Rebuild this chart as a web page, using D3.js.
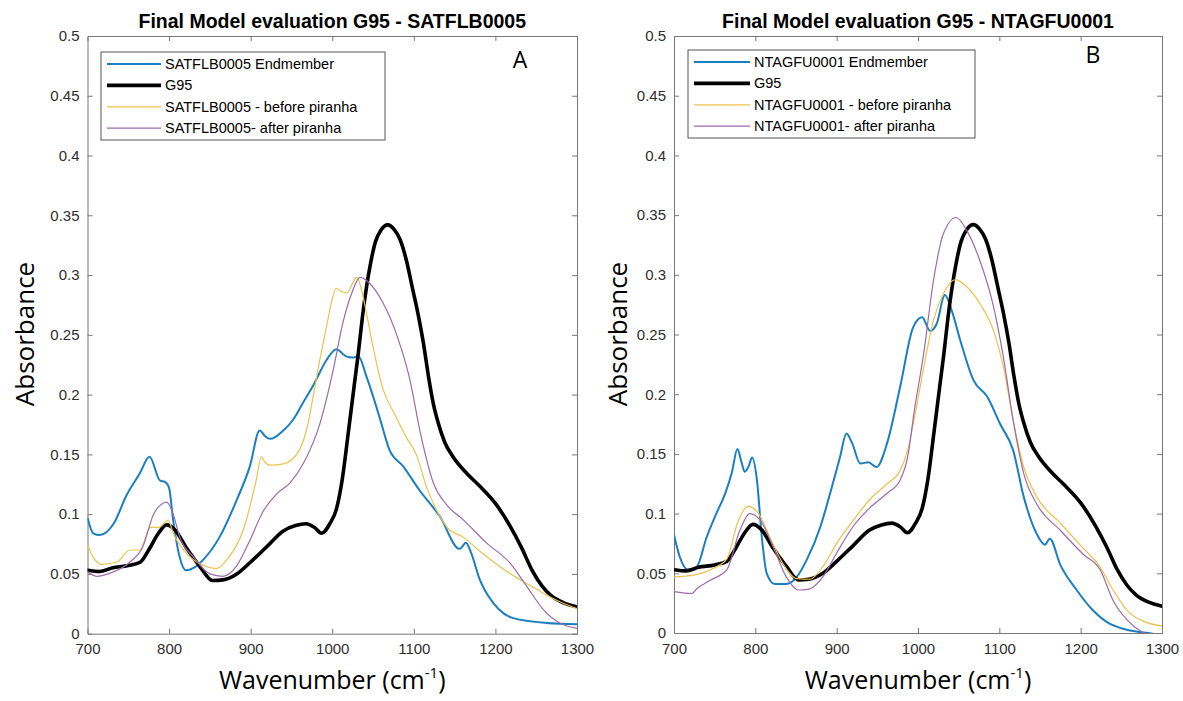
<!DOCTYPE html>
<html>
<head>
<meta charset="utf-8">
<script src="https://cdn.jsdelivr.net/npm/d3@7"></script>
<style>
  html, body { margin: 0; padding: 0; background: #fff; }
  svg { display: block; }
</style>
</head>
<body>
<svg id="chart" width="1183" height="701"></svg>
<script>
// ---------- data ----------
const waveTicks = [700, 800, 900, 1000, 1100, 1200, 1300];
const absTicks = [0, 0.05, 0.1, 0.15, 0.2, 0.25, 0.3, 0.35, 0.4, 0.45, 0.5];
const absTickLabels = ["0", "0.05", "0.1", "0.15", "0.2", "0.25", "0.3", "0.35", "0.4", "0.45", "0.5"];

// G95 reference spectrum (same in both panels)
const g95Wn  = [700, 715, 730, 750, 765, 775, 787, 797, 807, 822, 838, 853, 866, 883, 900, 920, 940, 955, 968, 978, 987, 997, 1005, 1012, 1020, 1027, 1032, 1037, 1042, 1047, 1053, 1060, 1068, 1076, 1083, 1091, 1098, 1105, 1112, 1118, 1124, 1130, 1138, 1148, 1165, 1180, 1200, 1218, 1232, 1245, 1257, 1268, 1283, 1300];
const g95Abs = [0.053, 0.052, 0.055, 0.057, 0.060, 0.070, 0.084, 0.091, 0.087, 0.071, 0.056, 0.0445, 0.045, 0.050, 0.060, 0.073, 0.086, 0.0905, 0.092, 0.089, 0.084, 0.092, 0.104, 0.128, 0.170, 0.208, 0.235, 0.265, 0.290, 0.310, 0.328, 0.338, 0.342, 0.338, 0.330, 0.312, 0.290, 0.268, 0.242, 0.215, 0.192, 0.176, 0.160, 0.148, 0.134, 0.124, 0.109, 0.090, 0.072, 0.053, 0.040, 0.032, 0.026, 0.0225];

// Panel A: SATFLB0005
const aEndWn  = [700, 707, 715, 732, 748, 764, 776, 789, 795, 800, 805, 813, 821, 830, 842, 862, 883, 899, 911, 918, 924, 940, 952, 964, 977, 993, 1005, 1017, 1025, 1032, 1042, 1058, 1070, 1087, 1107, 1132, 1156, 1164, 1170, 1181, 1197, 1210, 1222, 1263, 1300];
const aEndAbs = [0.097, 0.084, 0.0825, 0.092, 0.116, 0.134, 0.148, 0.128, 0.127, 0.122, 0.095, 0.064, 0.053, 0.055, 0.062, 0.081, 0.112, 0.140, 0.170, 0.165, 0.163, 0.170, 0.179, 0.193, 0.208, 0.229, 0.238, 0.232, 0.231, 0.232, 0.215, 0.181, 0.154, 0.140, 0.120, 0.098, 0.071, 0.076, 0.068, 0.045, 0.026, 0.017, 0.013, 0.009, 0.008];
const aBeforeWn  = [700, 707, 717, 736, 752, 764, 777, 787, 799, 805, 818, 842, 858, 871, 891, 907, 913, 918, 924, 940, 960, 970, 977, 985, 993, 1000, 1005, 1012, 1018, 1025, 1030, 1035, 1042, 1050, 1062, 1077, 1091, 1103, 1116, 1128, 1142, 1160, 1181, 1214, 1246, 1275, 1300];
const aBeforeAbs = [0.074, 0.064, 0.058, 0.060, 0.070, 0.070, 0.089, 0.089, 0.095, 0.084, 0.070, 0.057, 0.0545, 0.062, 0.087, 0.129, 0.148, 0.143, 0.141, 0.142, 0.154, 0.175, 0.200, 0.230, 0.257, 0.280, 0.289, 0.286, 0.285, 0.293, 0.298, 0.290, 0.268, 0.240, 0.205, 0.183, 0.164, 0.150, 0.122, 0.103, 0.088, 0.081, 0.069, 0.052, 0.039, 0.028, 0.021];
const aAfterWn  = [700, 711, 727, 752, 768, 781, 790, 797, 805, 813, 830, 850, 866, 883, 899, 915, 932, 948, 965, 985, 1001, 1013, 1024, 1034, 1046, 1062, 1079, 1095, 1108, 1124, 1140, 1161, 1189, 1218, 1238, 1259, 1279, 1300];
const aAfterAbs = [0.052, 0.048, 0.0505, 0.060, 0.073, 0.100, 0.108, 0.110, 0.100, 0.081, 0.064, 0.050, 0.048, 0.057, 0.078, 0.102, 0.117, 0.126, 0.143, 0.176, 0.220, 0.260, 0.285, 0.298, 0.293, 0.277, 0.250, 0.213, 0.168, 0.126, 0.108, 0.095, 0.076, 0.059, 0.040, 0.020, 0.009, 0.0045];

// Panel B: NTAGFU0001
const bEndWn  = [700, 707, 717, 728, 740, 752, 763, 771, 778, 783, 787, 792, 796, 802, 808, 814, 824, 838, 851, 863, 880, 892, 904, 912, 919, 929, 939, 949, 962, 978, 994, 1005, 1015, 1023, 1033, 1042, 1052, 1068, 1085, 1101, 1117, 1130, 1146, 1156, 1162, 1175, 1195, 1215, 1235, 1250, 1270, 1283, 1300];
const bEndAbs = [0.082, 0.064, 0.053, 0.0555, 0.080, 0.100, 0.117, 0.134, 0.154, 0.143, 0.135, 0.140, 0.147, 0.128, 0.080, 0.050, 0.041, 0.041, 0.047, 0.061, 0.089, 0.117, 0.147, 0.167, 0.159, 0.142, 0.143, 0.139, 0.159, 0.206, 0.256, 0.2645, 0.253, 0.259, 0.283, 0.269, 0.245, 0.212, 0.198, 0.175, 0.153, 0.114, 0.083, 0.074, 0.079, 0.057, 0.036, 0.019, 0.008, 0.004, 0.001, 0.0, -0.002];
const bBeforeWn  = [700, 724, 748, 765, 779, 791, 804, 818, 834, 851, 867, 883, 900, 920, 941, 962, 978, 988, 995, 1007, 1019, 1031, 1046, 1060, 1076, 1093, 1105, 1117, 1130, 1146, 1175, 1199, 1224, 1240, 1257, 1278, 1300];
const bBeforeAbs = [0.047, 0.0485, 0.054, 0.062, 0.094, 0.106, 0.100, 0.080, 0.058, 0.0455, 0.045, 0.0555, 0.075, 0.094, 0.112, 0.125, 0.136, 0.155, 0.178, 0.222, 0.262, 0.284, 0.296, 0.290, 0.276, 0.253, 0.223, 0.178, 0.139, 0.114, 0.092, 0.074, 0.055, 0.036, 0.019, 0.0095, 0.006];
const bAfterWn  = [700, 722, 728, 744, 765, 781, 793, 806, 822, 838, 853, 867, 883, 900, 920, 941, 962, 978, 988, 995, 1007, 1019, 1031, 1047, 1060, 1076, 1093, 1105, 1117, 1130, 1146, 1175, 1203, 1224, 1240, 1257, 1275, 1290, 1300];
const bAfterAbs = [0.0346, 0.033, 0.037, 0.044, 0.053, 0.086, 0.100, 0.0945, 0.072, 0.047, 0.036, 0.037, 0.047, 0.067, 0.089, 0.105, 0.117, 0.128, 0.150, 0.184, 0.234, 0.295, 0.334, 0.348, 0.337, 0.312, 0.273, 0.231, 0.178, 0.1335, 0.108, 0.086, 0.066, 0.053, 0.027, 0.011, 0.001, -0.003, -0.005];

const titles = ["Final Model evaluation G95 - SATFLB0005", "Final Model evaluation G95 - NTAGFU0001"];
const panelLetters = ["A", "B"];
const legendA = ["SATFLB0005 Endmember", "G95", "SATFLB0005 - before piranha", "SATFLB0005- after piranha"];
const legendB = ["NTAGFU0001 Endmember", "G95", "NTAGFU0001 - before piranha", "NTAGFU0001- after piranha"];

// ---------- styles ----------
const seriesStyle = [
  { color: "#1a7fc1", width: 2.0 },
  { color: "#000000", width: 3.6 },
  { color: "#ecc24e", width: 1.2 },
  { color: "#9c6aac", width: 1.2 }
];

const svg = d3.select("#chart");

function zip(xs, ys) { return xs.map((x, i) => [x, ys[i]]); }

function drawPanel(cfg, idx) {
  const x = d3.scaleLinear().domain([700, 1300]).range([cfg.x0, cfg.x1]);
  const y = d3.scaleLinear().domain([0, 0.5]).range([cfg.y0, cfg.y1]);
  const g = svg.append("g");

  const clipId = "clip" + idx;
  svg.append("defs").append("clipPath").attr("id", clipId)
    .append("rect").attr("x", cfg.x0).attr("y", cfg.y1)
    .attr("width", cfg.x1 - cfg.x0).attr("height", cfg.y0 - cfg.y1);

  // axes (inward ticks on all sides)
  const axisColor = "#777";
  const bottom = g.append("g").attr("transform", `translate(0,${cfg.y0})`)
    .call(d3.axisBottom(x).tickValues(waveTicks).tickSize(-5).tickPadding(10).tickFormat(d3.format("d")));
  const top = g.append("g").attr("transform", `translate(0,${cfg.y1})`)
    .call(d3.axisTop(x).tickValues(waveTicks).tickSize(-5).tickFormat(""));
  const left = g.append("g").attr("transform", `translate(${cfg.x0},0)`)
    .call(d3.axisLeft(y).tickValues(absTicks).tickSize(-5).tickPadding(8)
      .tickFormat((d, i) => absTickLabels[i]));
  const right = g.append("g").attr("transform", `translate(${cfg.x1},0)`)
    .call(d3.axisRight(y).tickValues(absTicks).tickSize(-5).tickFormat(""));
  [bottom, top, left, right].forEach(a => {
    a.selectAll(".domain").attr("stroke", axisColor).attr("stroke-width", 1);
    a.selectAll(".tick line").attr("stroke", axisColor).attr("stroke-width", 1);
    a.selectAll("text").attr("fill", "#2e2e2e")
      .style("font-family", "'Liberation Sans', Arial, sans-serif").style("font-size", "15px");
  });
  [bottom, top].forEach(a => a.selectAll(".tick line").filter(d => d === 700 || d === 1300).remove());
  [left, right].forEach(a => a.selectAll(".tick line").filter(d => d === 0 || d === 0.5).remove());

  // lines
  const line = d3.line().x(d => x(d[0])).y(d => y(d[1])).curve(d3.curveMonotoneX);
  const plot = g.append("g").attr("clip-path", `url(#${clipId})`);
  cfg.series.forEach((s, i) => {
    plot.append("path").datum(zip(s[0], s[1]))
      .attr("fill", "none").attr("stroke", seriesStyle[i].color)
      .attr("stroke-width", seriesStyle[i].width)
      .attr("stroke-linejoin", "round").attr("stroke-linecap", "round")
      .attr("d", line);
  });

  // title
  g.append("text").attr("x", (cfg.x0 + cfg.x1) / 2).attr("y", 28)
    .attr("text-anchor", "middle").attr("fill", "#000")
    .style("font-family", "'Liberation Sans', Arial, sans-serif")
    .style("font-weight", "bold").style("font-size", "19.5px")
    .text(titles[idx]);

  // panel letter
  g.append("text").attr("x", cfg.letterX).attr("y", cfg.letterY)
    .attr("text-anchor", "middle").attr("fill", "#000")
    .style("font-family", "'Open Sans', sans-serif").style("font-size", "23px")
    .text(panelLetters[idx]);

  // axis labels
  g.append("text")
    .attr("transform", `translate(${cfg.ylabX},334) rotate(-90)`)
    .attr("text-anchor", "middle").attr("fill", "#000")
    .style("font-family", "'Open Sans', sans-serif").style("font-size", "26px")
    .text("Absorbance");
  const xl = g.append("text").attr("x", (cfg.x0 + cfg.x1) / 2).attr("y", 689)
    .attr("text-anchor", "middle").attr("fill", "#000")
    .style("font-family", "'Open Sans', sans-serif").style("font-size", "25px");
  xl.append("tspan").text("Wavenumber (cm");
  xl.append("tspan").attr("dy", -11).style("font-size", "15px").text("-1");
  xl.append("tspan").attr("dy", 11).text(")");

  // legend
  const lg = g.append("g");
  lg.append("rect").attr("x", cfg.legX).attr("y", cfg.legY)
    .attr("width", cfg.legW).attr("height", 88)
    .attr("fill", "#fff").attr("stroke", "#555").attr("stroke-width", 1);
  cfg.legend.forEach((t, i) => {
    const yy = cfg.legY + 12 + i * 21.4;
    lg.append("line").attr("x1", cfg.legX + 6).attr("x2", cfg.legX + cfg.legLine)
      .attr("y1", yy).attr("y2", yy)
      .attr("stroke", seriesStyle[i].color).attr("stroke-width", seriesStyle[i].width);
    lg.append("text").attr("x", cfg.legX + cfg.legLine + 4).attr("y", yy + 5)
      .attr("fill", "#000")
      .style("font-family", "'Liberation Sans', Arial, sans-serif").style("font-size", "14.5px")
      .text(t);
  });
}

drawPanel({
  x0: 87.5, x1: 577, y0: 633.7, y1: 36,
  ylabX: 34, letterX: 520, letterY: 68,
  legX: 101, legY: 52, legW: 284, legLine: 60,
  legend: legendA,
  series: [[aEndWn, aEndAbs], [g95Wn, g95Abs], [aBeforeWn, aBeforeAbs], [aAfterWn, aAfterAbs]]
}, 0);

drawPanel({
  x0: 674, x1: 1162, y0: 633, y1: 36,
  ylabX: 627, letterX: 1093, letterY: 63,
  legX: 688, legY: 50, legW: 287, legLine: 62,
  legend: legendB,
  series: [[bEndWn, bEndAbs], [g95Wn, g95Abs], [bBeforeWn, bBeforeAbs], [bAfterWn, bAfterAbs]]
}, 1);
</script>
</body>
</html>
